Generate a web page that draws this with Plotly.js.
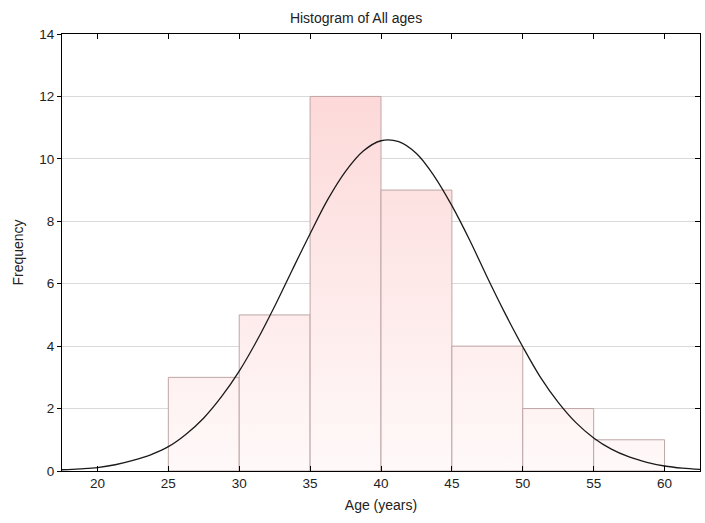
<!DOCTYPE html>
<html>
<head>
<meta charset="utf-8">
<script src="https://cdn.plot.ly/plotly-3.0.1.min.js"></script>
<style>html,body{margin:0;padding:0;background:#fff;}#chart{width:705px;height:523px;}</style>
</head>
<body>
<div id="chart"></div>
<script>
// Histogram bins (age, years) and frequencies
const binStart = [25, 30, 35, 40, 45, 50, 55];
const binEnd   = [30, 35, 40, 45, 50, 55, 60];
const counts   = [3, 5, 12, 9, 4, 2, 1];

// Fitted normal curve
const curveX = [17.5,18.75,20,21.25,22.5,23.75,25,26.25,27.5,28.75,30,31.25,32.5,33.75,35,36.25,37.5,38.75,40,41.25,42.5,43.75,45,46.25,47.5,48.75,50,51.25,52.5,53.75,55,56.25,57.5,58.75,60,61.25,62.5];
const curveY = [0.04,0.07,0.11,0.2,0.34,0.52,0.78,1.18,1.7,2.38,3.2,4.18,5.28,6.45,7.6,8.7,9.6,10.25,10.58,10.55,10.17,9.45,8.5,7.4,6.2,5.05,3.98,3.0,2.2,1.55,1.06,0.7,0.45,0.28,0.16,0.09,0.05];

const xTicks = [20, 25, 30, 35, 40, 45, 50, 55, 60];
const yTicks = [0, 2, 4, 6, 8, 10, 12, 14];

const traces = [];
for (let i = 0; i < counts.length; i++) {
  traces.push({
    type: 'scatter', mode: 'lines',
    x: [binStart[i], binStart[i], binEnd[i], binEnd[i], binStart[i]],
    y: [0, counts[i], counts[i], 0, 0],
    fill: 'toself',
    fillgradient: {type: 'vertical', start: 0, stop: 12,
      colorscale: [[0, '#fff9f9'], [1, '#fdd9d9']]},
    line: {color: '#bfa5a5', width: 1},
    hoverinfo: 'skip', showlegend: false
  });
}
traces.push({
  type: 'scatter', mode: 'lines', x: curveX, y: curveY,
  line: {color: '#1a1a1a', width: 1.3, shape: 'spline', smoothing: 1},
  showlegend: false
});
// invisible trace for right mirrored axis
traces.push({type: 'scatter', x: [20], y: [0], yaxis: 'y2', mode: 'markers',
  marker: {opacity: 0}, showlegend: false, hoverinfo: 'skip'});

const fam = 'Liberation Sans, Arial, sans-serif';
const layout = {
  width: 705, height: 523,
  margin: {l: 62, r: 5, t: 34, b: 52},
  paper_bgcolor: '#fff', plot_bgcolor: '#fff',
  font: {family: fam, size: 13, color: '#222'},
  title: {text: 'Histogram of All ages', x: 0.505, xanchor: 'center', y: 0.965, yanchor: 'middle',
    font: {family: fam, size: 14, color: '#222'}},
  xaxis: {
    range: [17.5, 62.5], tickvals: xTicks, ticktext: xTicks.map(String),
    ticks: 'inside', ticklen: 5, tickcolor: '#000',
    showline: true, linecolor: '#000', linewidth: 1, mirror: 'ticks',
    showgrid: false, zeroline: false,
    tickfont: {family: fam, size: 13.5, color: '#222'},
    title: {text: 'Age (years)', standoff: 9, font: {family: fam, size: 14, color: '#222'}}
  },
  yaxis: {
    range: [0, 14], tickvals: yTicks, ticktext: yTicks.map(String),
    ticks: 'outside', ticklen: 4, tickcolor: '#000',
    showline: true, linecolor: '#000', linewidth: 1, mirror: true,
    showgrid: true, gridcolor: '#d9d9d9', gridwidth: 1, zeroline: false,
    tickfont: {family: fam, size: 13.5, color: '#222'},
    title: {text: 'Frequency', standoff: 12, font: {family: fam, size: 14, color: '#222'}}
  },
  yaxis2: {
    overlaying: 'y', side: 'right', range: [0, 14], tickvals: yTicks,
    ticks: 'inside', ticklen: 5, tickcolor: '#000', showticklabels: false,
    showgrid: false, zeroline: false, showline: false
  },
  showlegend: false
};
Plotly.newPlot('chart', traces, layout, {staticPlot: true});
</script>
</body>
</html>
